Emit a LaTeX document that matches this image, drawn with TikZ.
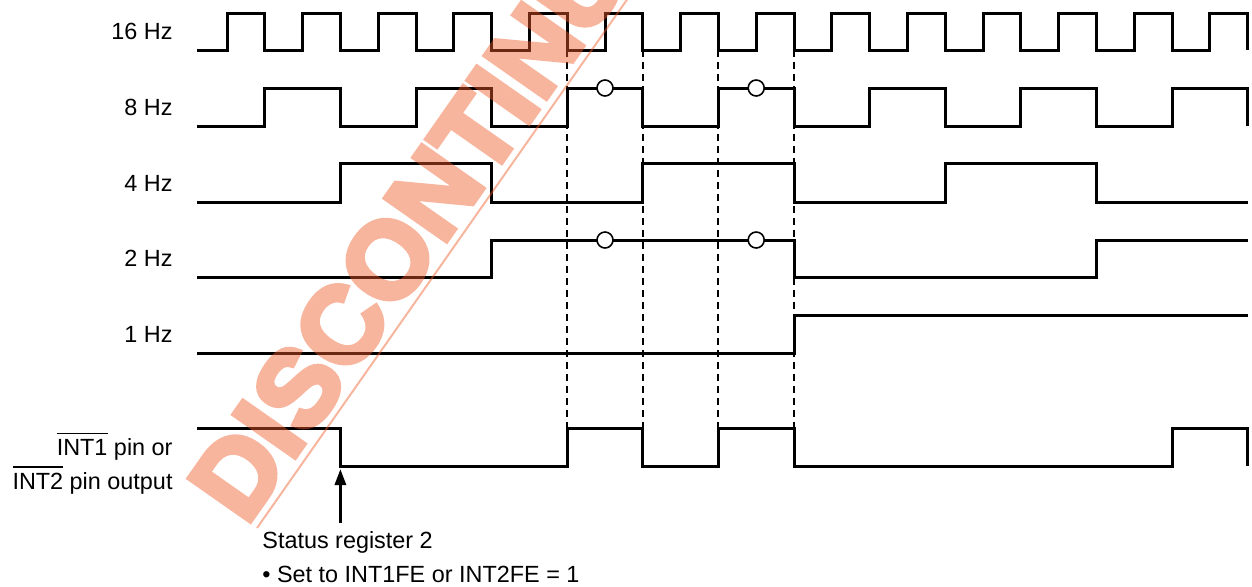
\documentclass[tikz,border=0pt]{standalone}
\usepackage{fontspec}
\setmainfont{Liberation Sans}
\newfontfamily\wmfont[FakeBold=5]{Liberation Sans Bold}
\usepackage{tikz}
\usetikzlibrary{arrows.meta,positioning,calc}

\definecolor{wmred}{RGB}{240,90,40}
\newcommand{\sigbar}[1]{\leavevmode\vbox{\hrule height 0.7pt\kern 2.4pt\hbox{#1}}}

\begin{document}
\begin{tikzpicture}[
  x=18.9pt, y=-0.5pt,
  wave/.style={line width=1.5pt},
  guide/.style={line width=1pt, dash pattern=on 3.5pt off 2.5pt},
  ring/.style={draw, circle, fill=white, line width=0.8pt, inner sep=0pt, minimum size=8pt},
  lab/.style={font=\fontsize{11.7pt}{17pt}\selectfont, inner sep=0pt},
  rowlab/.style={lab, anchor=east},
  pointer/.style={-{Triangle[length=8pt,width=5.5pt]}, line width=1.5pt},
  wmtext/.style={font=\fontsize{54pt}{54pt}\wmfont, text=wmred, inner sep=0pt, rotate=55, anchor=base west},
  wmrule/.style={draw=wmred, line width=1pt}
]
\useasboundingbox (-6.0053,0) rectangle (27.1164,586);
\clip (-6.0053,0) rectangle (27.1164,586);

\foreach \f/\y in {16/31.5, 8/107, 4/183, 2/258.5, 1/334}
  \node[rowlab] (l\f) at (-1.43,\y) {\f\ Hz};
\node[lab, align=right, anchor=base east] (lint) at (-1.43,489) {\sigbar{INT1} pin or\\\sigbar{INT2} pin output};

\foreach \k in {9,11,13,15} \draw[guide] (\k,50) -- (\k,428);

\draw[wave] (-0.8,50) \foreach \k in {0,2,...,26} { -- (\k,50) -- (\k,13) -- (\k+1,13) -- (\k+1,50) };
\draw[wave] (-0.8,126) \foreach \k in {1,5,...,25} { -- (\k,126) -- (\k,88) -- (\k+2,88) -- (\k+2,126) };
\draw[wave] (-0.8,202) \foreach \k in {3,11,19} { -- (\k,202) -- (\k,163) -- (\k+4,163) -- (\k+4,202) } -- (27,202);
\draw[wave] (-0.8,277) -- (7,277) -- (7,240) -- (15,240) -- (15,277) -- (23,277) -- (23,240) -- (27,240);
\draw[wave] (-0.8,353) -- (15,353) -- (15,315) -- (27,315);
\draw[wave] (-0.8,428) -- (3,428) -- (3,466) -- (9,466) -- (9,428) -- (11,428) -- (11,466) -- (13,466)
  -- (13,428) -- (15,428) -- (15,466) -- (25,466) -- (25,428) -- (27,428) -- (27,466);

\node[ring] (c1) at (10,88) {};
\node[ring] (c2) at (14,88) {};
\node[ring] (c3) at (10,240) {};
\node[ring] (c4) at (14,240) {};

\node[lab, align=left, anchor=base west] (stat) at (0.926,582) {Status register 2\\\textbullet\ Set to INT1FE or INT2FE = 1};
\coordinate (flag) at (3,469);
\coordinate (foot) at (3,523);
\draw[pointer] (foot) -- (flag);

\begin{scope}[transparency group, opacity=0.45]
\node[wmtext] (wm) at (0.5,527) {DISCONTINUED};
\coordinate (wmfoot) at (0.794,528);
\draw[wmrule] (wmfoot) -- ++(55:330pt);
\end{scope}
\end{tikzpicture}
\end{document}
